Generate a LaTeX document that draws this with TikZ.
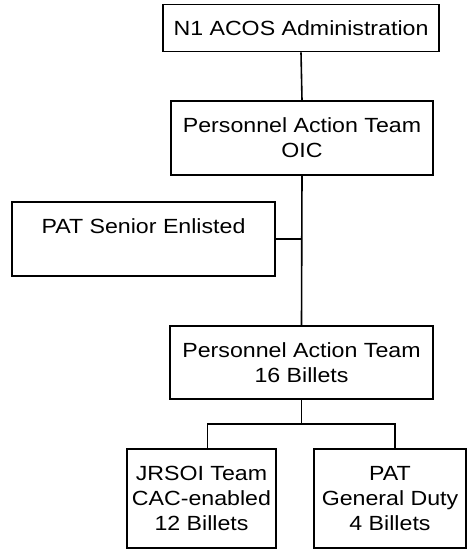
\documentclass[tikz,border=0pt]{standalone}
\usepackage{fontspec}
\setmainfont{Liberation Sans}[FakeStretch=1.13]
\begin{document}
\begin{tikzpicture}[x=1pt,y=-1pt,
  box/.style={draw,line width=1.6pt,inner sep=0pt,align=center,font=\fontsize{20.5}{25}\selectfont},
  conn/.style={line width=1.6pt}]
\useasboundingbox (0,0) rectangle (467,550);
\node[box,minimum width=276,minimum height=47] (b1) at (301,28) {N1 ACOS Administration};
\node[box,minimum width=262,minimum height=74] (b2) at (302,138) {Personnel Action Team\\OIC};
\node[box,minimum width=263,minimum height=74] (b3) at (143.5,239) {PAT Senior Enlisted\\\mbox{}};
\node[box,minimum width=263,minimum height=73] (b4) at (301.5,362.5) {Personnel Action Team\\16 Billets};
\node[box,minimum width=149,minimum height=99] (b5) at (201.5,498.5) {JRSOI Team\\CAC-enabled\\12 Billets};
\node[box,minimum width=152,minimum height=99] (b6) at (390,498.5) {PAT\\General Duty\\4 Billets};
\coordinate (j) at (301.5,424);
\draw[conn] (b1.south) -- (b2.north);
\draw[conn] (b2.south) -- (b4.north);
\draw[conn] (b3.east) -- (b3.east -| b2.south);
\draw[conn] (b4.south) -- (j);
\draw[conn] ([xshift=6pt]b5.north) |- (j) -| ([xshift=5pt]b6.north);
\end{tikzpicture}
\end{document}
